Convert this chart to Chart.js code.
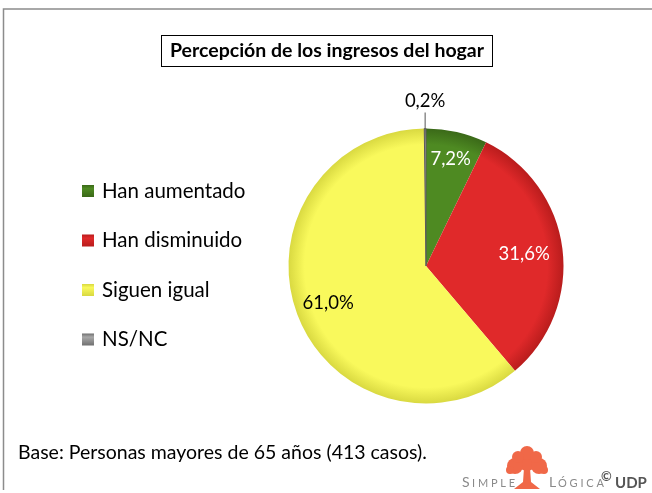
<!DOCTYPE html>
<html>
<head>
<meta charset="utf-8">
<script src="https://cdn.jsdelivr.net/npm/chart.js@4"></script>
<style>
  html, body { margin: 0; padding: 0; background: #fff; }
  #wrap { position: relative; width: 652px; height: 493px; }
</style>
</head>
<body>
<div id="wrap"><canvas id="pie" width="652" height="493"></canvas></div>
<script>
const chartTitle = 'Percepción de los ingresos del hogar';
const labels = ['Han aumentado', 'Han disminuido', 'Siguen igual', 'NS/NC'];
const values = [7.2, 31.6, 61.0, 0.2];
const colors = ['#4e8a22', '#e0292a', '#f9f95c', '#a8a8a8'];
const edgeColors = ['#3a6818', '#b81c1c', '#d8d840', '#707070'];
const baseNote = 'Base: Personas mayores de 65 años (413 casos).';

const FONT = 'Lato, "Open Sans", sans-serif';

function sliceFill(context) {
    const chart = context.chart;
    const area = chart.chartArea;
    const i = context.dataIndex;
    if (!area) return colors[i];
    const cx = (area.left + area.right) / 2;
    const cy = (area.top + area.bottom) / 2;
    const r = Math.min(area.right - area.left, area.bottom - area.top) / 2;
    if (!Number.isFinite(cx) || !Number.isFinite(r) || r <= 0) return colors[i];
    const g = chart.ctx.createRadialGradient(cx, cy, 0, cx, cy, r);
    g.addColorStop(0, colors[i]);
    g.addColorStop(0.88, colors[i]);
    g.addColorStop(1, edgeColors[i]);
    return g;
}

// frame, title box, legend, footer
const decorPlugin = {
    id: 'decor',
    beforeDraw(chart) {
        const ctx = chart.ctx;
        ctx.save();
        ctx.fillStyle = '#fff';
        ctx.fillRect(0, 0, chart.width, chart.height);
        ctx.strokeStyle = '#8c8c8c';
        ctx.lineWidth = 1.5;
        ctx.beginPath();
        ctx.moveTo(3.5, 490);
        ctx.lineTo(3.5, 9);
        ctx.lineTo(652, 9);
        ctx.stroke();

        // title
        ctx.font = 'bold 19.5px ' + FONT;
        ctx.fillStyle = '#000';
        ctx.textAlign = 'center';
        ctx.textBaseline = 'middle';
        ctx.fillText(chartTitle, 327, 51);
        ctx.strokeStyle = '#000';
        ctx.lineWidth = 1;
        ctx.strokeRect(161.5, 35.5, 331, 31);

        // legend
        ctx.textAlign = 'left';
        ctx.font = '20.5px ' + FONT;
        labels.forEach((lab, i) => {
            const y = 191 + i * 49.5;
            const g = ctx.createLinearGradient(82, y - 6, 82, y + 6);
            g.addColorStop(0, edgeColors[i]);
            g.addColorStop(0.3, colors[i]);
            g.addColorStop(1, edgeColors[i]);
            ctx.fillStyle = g;
            ctx.fillRect(82, y - 6, 12, 12);
            ctx.fillStyle = '#000';
            ctx.fillText(lab, 102, y);
        });

        // footer note
        ctx.font = '19.5px ' + FONT;
        ctx.fillText(baseNote, 18, 453);

        // logo
        ctx.fillStyle = '#8a8a8a';
        ctx.textBaseline = 'alphabetic';
        ctx.font = '14px ' + FONT;
        ctx.fillText('S', 462, 487);
        ctx.fillText('L', 549, 487);
        ctx.font = '11px ' + FONT;
        ctx.fillText('I M P L E', 472, 487);
        ctx.fillText('Ó G I C A', 558, 487);
        ctx.fillStyle = '#f06848';
        [[527, 461, 10], [515, 466, 8], [539, 466, 8], [527, 453, 7], [518, 457, 6], [536, 457, 6], [510, 470, 4], [544, 470, 4]].forEach(c => {
            ctx.beginPath();
            ctx.arc(c[0], c[1], c[2], 0, Math.PI * 2);
            ctx.fill();
        });
        ctx.beginPath();
        ctx.moveTo(524, 468); ctx.lineTo(530, 468); ctx.lineTo(531, 482);
        ctx.lineTo(540, 489); ctx.lineTo(514, 489); ctx.lineTo(523, 482);
        ctx.fill();
        ctx.fillStyle = '#555';
        ctx.font = 'bold 13px ' + FONT;
        ctx.fillText('©', 601, 481);
        ctx.font = 'bold 15px ' + FONT;
        ctx.fillText('UDP', 615, 488);
        ctx.restore();
    }
};

// percentage labels on slices
const labelPlugin = {
    id: 'sliceLabels',
    afterDatasetsDraw(chart) {
        const ctx = chart.ctx;
        const arcs = chart.getDatasetMeta(0).data;
        const factor = [0.8, 0.72, 0.76, 0];
        const textColor = ['#fff', '#fff', '#000', '#000'];
        ctx.save();
        ctx.font = '18.5px ' + FONT;
        ctx.textAlign = 'center';
        ctx.textBaseline = 'middle';
        arcs.forEach((arc, i) => {
            const mid = (arc.startAngle + arc.endAngle) / 2;
            const txt = values[i].toFixed(1).replace('.', ',') + '%';
            if (i === 3) {
                const x = arc.x + Math.cos(mid) * arc.outerRadius;
                const y = arc.y + Math.sin(mid) * arc.outerRadius;
                ctx.strokeStyle = '#555';
                ctx.lineWidth = 1;
                ctx.beginPath();
                ctx.moveTo(x, y);
                ctx.lineTo(x, y - 16);
                ctx.stroke();
                ctx.fillStyle = textColor[i];
                ctx.fillText(txt, x, y - 27);
                return;
            }
            const r = arc.outerRadius * factor[i];
            ctx.fillStyle = textColor[i];
            ctx.fillText(txt, arc.x + Math.cos(mid) * r, arc.y + Math.sin(mid) * r);
        });
        ctx.restore();
    }
};

const ctx = document.getElementById('pie').getContext('2d');
const chart = new Chart(ctx, {
    type: 'pie',
    data: {
        labels: labels,
        datasets: [{
            data: values,
            backgroundColor: sliceFill,
            borderColor: ['rgba(0,0,0,0)', 'rgba(0,0,0,0)', 'rgba(0,0,0,0)', '#5a5a5a'],
            borderWidth: [0, 0, 0, 1]
        }]
    },
    options: {
        responsive: false,
        animation: false,
        layout: {
            padding: { left: 288, right: 88, top: 128, bottom: 89 }
        },
        plugins: {
            legend: { display: false },
            tooltip: { enabled: false },
            title: { display: false }
        }
    },
    plugins: [decorPlugin, labelPlugin]
});
</script>
</body>
</html>
